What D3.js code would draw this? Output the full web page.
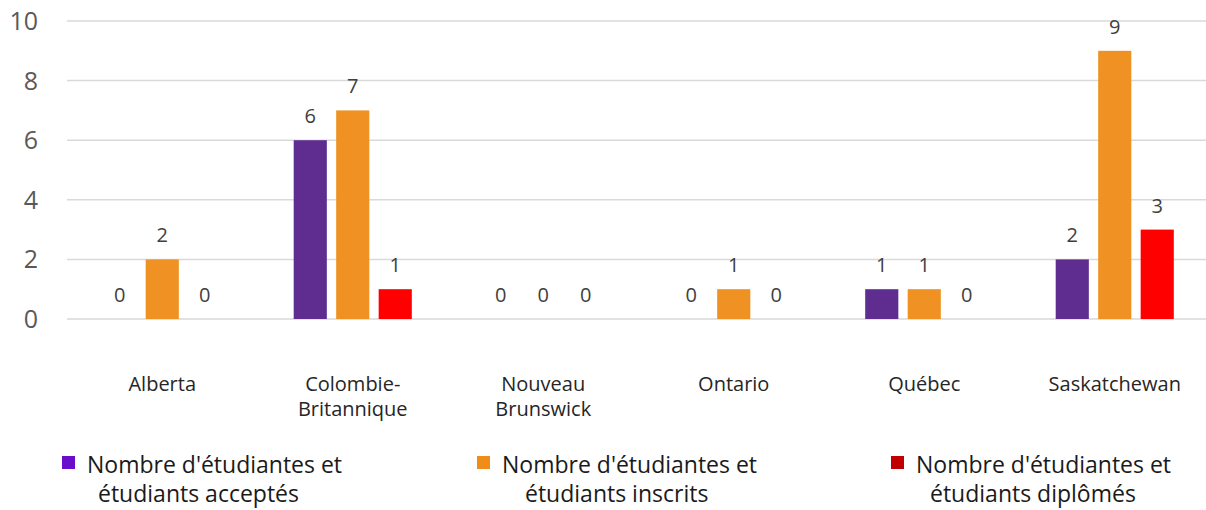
<!DOCTYPE html>
<html>
<head>
<meta charset="utf-8">
<script src="https://cdn.jsdelivr.net/npm/d3@7"></script>
<style>
  body { margin: 0; background: #fff; }
  text { font-family: "Open Sans", "Noto Sans", sans-serif; }
</style>
</head>
<body>
<svg id="chart" width="1206" height="510"></svg>
<script>
var provinces = [["Alberta"], ["Colombie-", "Britannique"], ["Nouveau", "Brunswick"], ["Ontario"], ["Québec"], ["Saskatchewan"]];
var seriesNames = [
  ["Nombre d'étudiantes et", "étudiants acceptés"],
  ["Nombre d'étudiantes et", "étudiants inscrits"],
  ["Nombre d'étudiantes et", "étudiants diplômés"]
];
var accepted = [0, 6, 0, 0, 1, 2];
var enrolled = [2, 7, 0, 1, 1, 9];
var graduated = [0, 1, 0, 0, 0, 3];
var yTicks = [0, 2, 4, 6, 8, 10];

var barColors = ["#5f2d8f", "#ef9223", "#ff0000"];
var legendColors = ["#6a0dca", "#ef8c1a", "#c00000"];

var svg = d3.select("#chart");
// the plot area runs a little past the right edge, as in the original
var margin = {left: 67, right: -4, top: 21, bottom: 191};
var w = 1206 - margin.left - margin.right;
var h = 510 - margin.top - margin.bottom;

var g = svg.append("g").attr("transform", "translate(" + margin.left + "," + margin.top + ")");

var series = [accepted, enrolled, graduated];
var x0 = d3.scaleBand().domain(d3.range(provinces.length)).range([0, w]);
var x1 = d3.scaleBand().domain([0, 1, 2])
  .range([x0.bandwidth() * 0.19, x0.bandwidth() * 0.81]).paddingInner(0.22);
var y = d3.scaleLinear().domain([0, 10]).range([h, 0]);

// gridlines
g.append("g").selectAll("line").data(yTicks).enter().append("line")
  .attr("x1", 0).attr("x2", w)
  .attr("y1", function(d){ return y(d); }).attr("y2", function(d){ return y(d); })
  .attr("stroke", "#d9d9d9").attr("stroke-width", 1.5);

// y tick labels
g.append("g").selectAll("text").data(yTicks).enter().append("text")
  .attr("x", -29).attr("y", function(d){ return y(d); })
  .attr("dy", "0.36em")
  .attr("text-anchor", "end")
  .style("font-size", "25px").style("fill", "#595959")
  .text(function(d){ return d; });

// bars
var groups = g.append("g").selectAll("g").data(provinces).enter().append("g")
  .attr("transform", function(d, i){ return "translate(" + x0(i) + ",0)"; });

groups.each(function(p, i) {
  var gg = d3.select(this);
  series.forEach(function(s, k) {
    gg.append("rect")
      .attr("x", x1(k)).attr("width", x1.bandwidth())
      .attr("y", y(s[i])).attr("height", h - y(s[i]))
      .attr("fill", barColors[k]);
    gg.append("text")
      .attr("x", x1(k) + x1.bandwidth() / 2)
      .attr("y", y(s[i]) - 17)
      .attr("text-anchor", "middle")
      .style("font-size", "20px").style("fill", "#404040")
      .text(s[i]);
  });
  // category labels
  p.forEach(function(line, j) {
    gg.append("text")
      .attr("x", x0.bandwidth() / 2)
      .attr("y", h + 72 + j * 25)
      .attr("text-anchor", "middle")
      .style("font-size", "20px").style("fill", "#262626")
      .text(line);
  });
});

// legend
var legendX = [62, 477, 891];
var secondIndent = [36, 48, 39];
var legend = svg.append("g").selectAll("g").data(seriesNames).enter().append("g")
  .attr("transform", function(d, i){ return "translate(" + legendX[i] + ",456)"; });
legend.append("rect").attr("width", 13).attr("height", 13)
  .attr("fill", function(d, i){ return legendColors[i]; });
legend.append("text").attr("x", 25).attr("y", 17)
  .style("font-size", "23px").style("fill", "#1a1a1a")
  .text(function(d){ return d[0]; });
legend.append("text").attr("x", function(d, i){ return secondIndent[i]; }).attr("y", 46)
  .style("font-size", "23px").style("fill", "#1a1a1a")
  .text(function(d){ return d[1]; });
</script>
</body>
</html>
